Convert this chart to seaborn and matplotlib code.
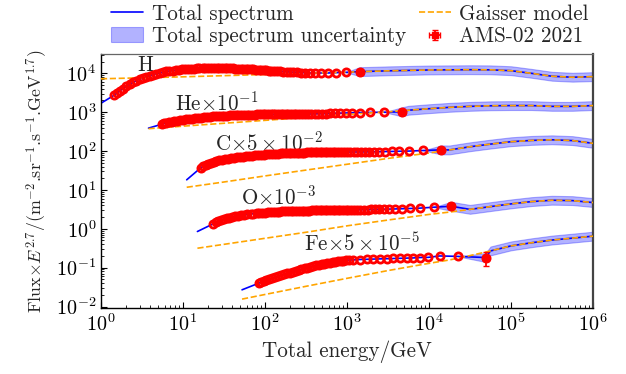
import numpy as np
import matplotlib
matplotlib.use("Agg")
import matplotlib.pyplot as plt
import seaborn as sns
from matplotlib.lines import Line2D
from matplotlib.container import ErrorbarContainer
from matplotlib.legend_handler import HandlerErrorbar

# ---------------- AMS-02 2021 spectra (total energy in GeV, flux x E^2.7, scaled) ----------------
h_energy = [1.43, 1.56, 1.70, 1.86, 2.04, 2.24, 2.46, 2.70, 2.97, 3.27,
            3.59, 3.94, 4.32, 4.74, 5.21, 5.71, 6.25, 6.84, 7.48, 8.16,
            8.91, 9.72, 10.5, 11.5, 12.5, 13.5, 14.7, 15.9, 17.3, 18.7,
            20.3, 21.9, 23.7, 25.7, 27.7, 29.9, 32.3, 34.8, 37.5, 40.4,
            43.5, 46.8, 50.3, 54.1, 58.2, 62.5, 67.2, 72.3, 77.6, 83.4,
            89.7, 96.4, 104, 112, 120, 130, 141, 153, 167, 183,
            201, 222, 246, 275, 310, 354, 409, 481, 581, 727,
            964, 1426]
h_flux = [2690, 3090, 3550, 4070, 4680, 5250, 5890, 6460, 7080, 7590,
          8130, 8710, 9330, 9770, 10200, 10700, 11200, 11500, 11700, 12000,
          12300, 12600, 12900, 13000, 13200, 13300, 13500, 13500, 13600, 13600,
          13800, 13800, 13800, 13800, 13800, 13800, 13600, 13600, 13500, 13500,
          13300, 13200, 13200, 13000, 12900, 12700, 12600, 12600, 12400, 12300,
          12200, 12000, 11900, 11700, 11600, 11500, 11400, 11200, 11100, 11000,
          10800, 10700, 10600, 10500, 10400, 10200, 10200, 10200, 10200, 10400,
          10600, 11100]

he_energy = [5.51, 5.87, 6.29, 6.76, 7.29, 7.86, 8.52, 9.22, 10.0, 10.9,
             11.9, 12.9, 14.0, 15.3, 16.6, 18.1, 19.7, 21.3, 23.3, 25.3,
             27.3, 29.6, 32.0, 34.8, 37.6, 40.8, 44.0, 47.5, 51.5, 55.5,
             59.9, 64.7, 69.7, 75.1, 80.9, 87.1, 93.7, 101, 108, 117,
             125, 134, 145, 155, 167, 179, 193, 208, 224, 240,
             260, 282, 306, 334, 366, 402, 444, 492, 550, 620,
             708, 818, 962, 1160, 1450, 1930, 2850, 4650]
he_flux = [490, 513, 531, 550, 569, 589, 610, 624, 638, 653,
           668, 684, 700, 716, 728, 741, 753, 764, 776, 785,
           794, 804, 813, 820, 828, 836, 841, 847, 853, 857,
           861, 865, 869, 871, 873, 875, 877, 877, 879, 879,
           879, 879, 879, 879, 879, 881, 881, 883, 885, 887,
           889, 891, 893, 897, 902, 906, 912, 916, 923, 929,
           938, 946, 955, 966, 977, 989, 1000, 1023]

c_energy = [16.5, 17.6, 18.9, 20.3, 21.9, 23.6, 25.6, 27.7, 30.1, 32.7,
            35.6, 38.7, 42.1, 45.9, 49.9, 54.3, 59.1, 64.0, 69.9, 75.8,
            81.8, 88.9, 96.0, 104, 113, 122, 132, 143, 155, 167,
            180, 194, 209, 225, 243, 261, 281, 302, 325, 349,
            375, 403, 434, 466, 500, 538, 578, 624, 672, 720,
            780, 846, 918, 1000, 1100, 1210, 1330, 1480, 1650, 1860,
            2120, 2450, 2890, 3490, 4360, 5780, 8560, 13900]
c_flux = [37.2, 40.7, 44.2, 47.3, 50.1, 53.1, 55.6, 57.8, 60.0, 62.1,
          64.0, 65.8, 67.6, 69.3, 71.0, 72.4, 74.0, 75.3, 76.7, 78.0,
          79.1, 80.2, 81.3, 82.4, 83.4, 84.3, 85.1, 85.9, 86.7, 87.5,
          88.1, 88.7, 89.3, 89.9, 90.4, 90.8, 91.2, 91.6, 92.0, 92.3,
          92.5, 92.7, 92.9, 93.1, 93.3, 93.3, 93.5, 93.5, 93.8, 93.8,
          94.0, 94.0, 94.2, 94.4, 94.4, 94.6, 94.8, 95.1, 95.3, 95.5,
          95.9, 96.4, 97.1, 97.7, 98.9, 100.0, 103.5, 107.2]

o_energy = [23.5, 25.1, 27.0, 29.1, 31.4, 34.1, 36.9, 40.1, 43.6, 47.4,
            51.6, 56.2, 61.2, 66.6, 72.4, 78.8, 85.3, 93.2, 101, 109,
            119, 128, 139, 150, 163, 176, 190, 206, 222, 240,
            259, 279, 300, 324, 348, 375, 403, 433, 466, 500,
            538, 578, 621, 667, 718, 771, 832, 896, 960, 1040,
            1130, 1220, 1340, 1460, 1610, 1780, 1970, 2200, 2480, 2830,
            3270, 3850, 4650, 5820, 7710, 11400, 18600]
o_flux = [1.35, 1.46, 1.57, 1.67, 1.76, 1.85, 1.94, 2.02, 2.09, 2.16,
          2.23, 2.29, 2.35, 2.40, 2.46, 2.50, 2.54, 2.58, 2.62, 2.65,
          2.68, 2.71, 2.74, 2.76, 2.79, 2.81, 2.83, 2.84, 2.86, 2.88,
          2.90, 2.91, 2.92, 2.94, 2.95, 2.97, 2.98, 2.99, 3.00, 3.01,
          3.01, 3.02, 3.03, 3.03, 3.04, 3.05, 3.06, 3.06, 3.07, 3.08,
          3.08, 3.09, 3.10, 3.11, 3.12, 3.13, 3.14, 3.16, 3.17, 3.19,
          3.21, 3.24, 3.28, 3.33, 3.40, 3.59, 3.80]

fe_energy = [83.9, 89.9, 96.6, 104, 112, 121, 132, 143, 155, 169,
             184, 200, 217, 236, 257, 278, 304, 329, 355, 386,
             417, 453, 489, 530, 572, 618, 670, 722, 779, 841,
             906, 976, 1052, 1175, 1445, 1740, 2090, 2510, 3090, 3630,
             4470, 5370, 6460, 7760, 9770, 13500, 22400, 49000]
fe_flux = [0.0398, 0.0422, 0.0447, 0.0473, 0.0501, 0.0531, 0.0562, 0.0596, 0.0631, 0.0668,
           0.0708, 0.0750, 0.0794, 0.0832, 0.0871, 0.0912, 0.0955, 0.100, 0.105, 0.110,
           0.114, 0.117, 0.122, 0.126, 0.130, 0.135, 0.138, 0.141, 0.145, 0.148,
           0.151, 0.154, 0.157, 0.158, 0.162, 0.164, 0.166, 0.168, 0.170, 0.172,
           0.174, 0.176, 0.178, 0.182, 0.184, 0.200, 0.195, 0.182]

# relative error of the highest-energy AMS-02 bin of each species
last_point_rel_err = [0.05, 0.10, 0.12, 0.12, 0.40]
last_bin_rel_halfwidth = [0.06, 0.06, 0.06, 0.06, 0.06]

# ---------------- Gaisser model (same scaling) ----------------
h_gaisser_energy = [1, 3.16, 10, 31.6, 100, 316, 1e3, 1.78e3, 3.16e3, 5.62e3,
                    1e4, 1.78e4, 3.16e4, 5.62e4, 1e5, 1.78e5, 3.16e5, 5.62e5, 1e6]
h_gaisser_flux = [7240, 7670, 8130, 8710, 9330, 10000, 10700, 11200, 11600, 11900,
                  12200, 12300, 12400, 12300, 11700, 10000, 8410, 7940, 8220]

he_gaisser_energy = [3.8, 10, 31.6, 100, 316, 1e3, 3.16e3, 5.62e3, 1e4, 1.78e4,
                     3.16e4, 5.62e4, 1e5, 1.78e5, 3.16e5, 5.62e5, 1e6]
he_gaisser_flux = [376, 437, 519, 617, 733, 871, 1023, 1122, 1230, 1334,
                   1413, 1462, 1479, 1479, 1413, 1413, 1479]

c_gaisser_energy = [11.1, 31.6, 100, 316, 1e3, 3.16e3, 1e4, 1.78e4, 3.16e4, 5.62e4,
                    1e5, 1.78e5, 3.16e5, 5.62e5, 1e6]
c_gaisser_flux = [11.7, 16.0, 22.9, 32.4, 45.7, 64.6, 89.1, 107, 129, 151,
                  174, 188, 195, 186, 158]

o_gaisser_energy = [15, 31.6, 100, 316, 1e3, 3.16e3, 1e4, 1.78e4, 3.16e4, 5.62e4,
                    1e5, 1.78e5, 3.16e5, 5.62e5, 1e6]
o_gaisser_flux = [0.316, 0.398, 0.569, 0.813, 1.19, 1.68, 2.34, 2.69, 3.16, 3.72,
                  4.37, 5.01, 5.43, 5.31, 4.73]

fe_gaisser_energy = [52.5, 100, 316, 1e3, 3.16e3, 1e4, 1.78e4, 3.16e4, 5.62e4,
                     1e5, 1.78e5, 3.16e5, 5.62e5, 1e6]
fe_gaisser_flux = [0.0155, 0.0204, 0.0331, 0.0531, 0.0841, 0.129, 0.158, 0.204, 0.269,
                   0.363, 0.437, 0.513, 0.575, 0.646]

# low-energy end of the total spectrum (extrapolated below the first AMS-02 bin)
total_start_energy = [1.0, 3.8, 11.1, 15.0, 52.5]
total_start_flux = [1700, 389, 18.2, 0.851, 0.0269]

# relative width of the total-spectrum uncertainty band above the AMS-02 range
spectrum_uncertainty = 0.3

species_labels = ["H", r"He$\times10^{-1}$", r"C$\times5\times10^{-2}$",
                  r"O$\times10^{-3}$", r"Fe$\times5\times10^{-5}$"]
label_energy = [2.75, 8.1, 24.5, 51.0, 295]
label_flux = [1.6e4, 1780, 168, 6.8, 0.42]

species = [
    (h_energy, h_flux, h_gaisser_energy, h_gaisser_flux),
    (he_energy, he_flux, he_gaisser_energy, he_gaisser_flux),
    (c_energy, c_flux, c_gaisser_energy, c_gaisser_flux),
    (o_energy, o_flux, o_gaisser_energy, o_gaisser_flux),
    (fe_energy, fe_flux, fe_gaisser_energy, fe_gaisser_flux),
]

# ---------------- style ----------------
sns.set_theme(style="ticks")
FS = 15.2
plt.rcParams.update({
    "font.family": "serif",
    "font.serif": ["cmr10"],
    "mathtext.fontset": "cm",
    "axes.formatter.use_mathtext": True,
    "axes.unicode_minus": True,
    "font.size": FS,
})

fig = plt.figure(figsize=(6.26, 3.74), dpi=100)
ax = fig.add_axes([0.1613, 0.1757, 0.786, 0.680])
ax.set_xscale("log")
ax.set_yscale("log")

band_handle = None
err_handle = None
for i, (e, f, ge, gf) in enumerate(species):
    e = np.asarray(e, float)
    f = np.asarray(f, float)
    ge = np.asarray(ge, float)
    gf = np.asarray(gf, float)
    above = ge > e[-1]

    # total spectrum: extrapolation -> data -> model beyond the data
    tx = np.concatenate([[total_start_energy[i]], e, ge[above]])
    ty = np.concatenate([[total_start_flux[i]], f, gf[above]])

    # uncertainty band, opening from the last two AMS-02 bins
    bx = np.concatenate([e[-2:], ge[above]])
    bc = np.concatenate([f[-2:], gf[above]])
    bw = np.full(bx.size, 1.0 + spectrum_uncertainty)
    bw[0] = 1.0
    band = ax.fill_between(bx, bc / bw, bc * bw, color="blue", alpha=0.3,
                           lw=0.8, zorder=1)
    if band_handle is None:
        band_handle = band

    sns.lineplot(x=tx, y=ty, ax=ax, color="blue", lw=1.2, zorder=2,
                 estimator=None, sort=False)
    sns.lineplot(x=ge, y=gf, ax=ax, color="orange", lw=1.2, linestyle="--",
                 zorder=3, estimator=None, sort=False)
    sns.lineplot(x=e, y=f, ax=ax, color="red", marker="o", linestyle="none",
                 markersize=5.2, markerfacecolor="none", markeredgecolor="red",
                 markeredgewidth=2.0, zorder=4, estimator=None, sort=False)

    r = last_point_rel_err[i]
    w = last_bin_rel_halfwidth[i]
    eb = ax.errorbar([e[-1]], [f[-1]], yerr=[[f[-1] * r], [f[-1] * r]],
                     xerr=[[e[-1] * w], [e[-1] * w]], fmt="s", ms=4.5,
                     mfc="red", mec="red", mew=1.0, ecolor="red",
                     elinewidth=1.3, capsize=2.2, capthick=1.3, zorder=5)
    if err_handle is None:
        err_handle = eb

    ax.text(label_energy[i], label_flux[i], species_labels[i], fontsize=FS,
            ha="left", va="center")

ax.set_xlim(1, 1e6)
ax.set_ylim(9e-3, 3.15e4)
ax.set_xlabel("Total energy/GeV", fontsize=FS, labelpad=4)
ax.set_ylabel(r"Flux$\times E^{2.7}$/(m$^{-2}$.sr$^{-1}$.s$^{-1}$.GeV$^{1.7}$)",
              fontsize=12.9, labelpad=5)

ax.tick_params(which="both", direction="in", top=False, right=False,
               labelsize=14.5, colors="black")
ax.tick_params(which="major", length=4, width=0.8)
ax.tick_params(which="minor", length=2, width=0.6)
ax.xaxis.set_major_locator(matplotlib.ticker.LogLocator(base=10, numticks=10))
ax.xaxis.set_minor_locator(matplotlib.ticker.LogLocator(base=10, subs=np.arange(2, 10), numticks=20))
ax.yaxis.set_major_locator(matplotlib.ticker.LogLocator(base=10, numticks=10))
ax.yaxis.set_minor_locator(matplotlib.ticker.LogLocator(base=10, subs=np.arange(2, 10), numticks=20))
ax.xaxis.set_minor_formatter(matplotlib.ticker.NullFormatter())
ax.yaxis.set_minor_formatter(matplotlib.ticker.NullFormatter())

for side in ["left", "bottom"]:
    ax.spines[side].set_color("black")
    ax.spines[side].set_linewidth(1.0)
ax.spines["top"].set_color("#666666")
ax.spines["top"].set_linewidth(0.9)
ax.spines["right"].set_color("#444444")
ax.spines["right"].set_linewidth(1.6)
ax.grid(False)

handles = [
    Line2D([], [], color="blue", lw=1.2),
    band_handle,
    Line2D([], [], color="orange", lw=1.2, linestyle="--"),
    err_handle,
]
labels = ["Total spectrum", "Total spectrum uncertainty", "Gaisser model", "AMS-02 2021"]
fig.legend(handles, labels, loc="upper left", bbox_to_anchor=(0.174, 0.995),
           ncol=2, frameon=False, fontsize=FS, handlelength=1.5,
           handletextpad=0.42, columnspacing=0.62, labelspacing=0.15,
           borderpad=0.1, borderaxespad=0.0,
           handler_map={ErrorbarContainer: HandlerErrorbar(xerr_size=0.25)})

fig.savefig("out.png", dpi=100)
